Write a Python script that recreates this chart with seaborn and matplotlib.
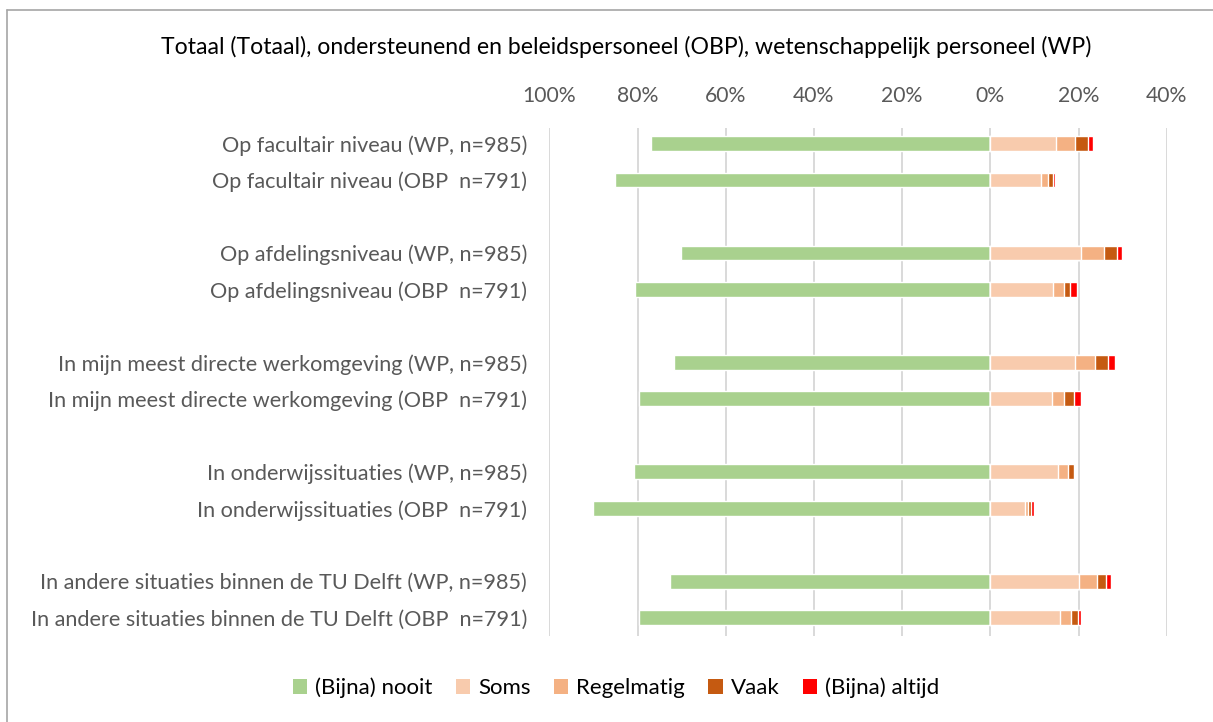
import matplotlib
matplotlib.use("Agg")
import matplotlib.pyplot as plt
import seaborn as sns
import pandas as pd
import numpy as np
from matplotlib.patches import Patch
from matplotlib.lines import Line2D

categories = [
    "Op facultair niveau (WP, n=985)",
    "Op facultair niveau (OBP  n=791)",
    "Op afdelingsniveau (WP, n=985)",
    "Op afdelingsniveau (OBP  n=791)",
    "In mijn meest directe werkomgeving (WP, n=985)",
    "In mijn meest directe werkomgeving (OBP  n=791)",
    "In onderwijssituaties (WP, n=985)",
    "In onderwijssituaties (OBP  n=791)",
    "In andere situaties binnen de TU Delft (WP, n=985)",
    "In andere situaties binnen de TU Delft (OBP  n=791)",
]
nooit      = [77.0, 85.1, 70.2, 80.5, 71.7, 79.7, 80.8, 90.2, 72.6, 79.7]
soms       = [15.0, 11.6, 20.6, 14.2, 19.1, 13.9, 15.4, 7.8, 20.0, 15.9]
regelmatig = [4.3, 1.5, 5.1, 2.4, 4.7, 2.7, 2.3, 0.7, 4.3, 2.5]
vaak       = [2.8, 1.1, 3.1, 1.5, 3.0, 2.4, 1.3, 0.8, 2.0, 1.5]
altijd     = [1.1, 0.5, 1.0, 1.5, 1.4, 1.6, 0.3, 0.7, 1.1, 0.7]

series_names = ["(Bijna) nooit", "Soms", "Regelmatig", "Vaak", "(Bijna) altijd"]
colors = ["#a9d18e", "#f8cbad", "#f4b183", "#c55a11", "#ff0000"]
xticks = [-100, -80, -60, -40, -20, 0, 20, 40]
xticklabels = ["100%", "80%", "60%", "40%", "20%", "0%", "20%", "40%"]
title = "Totaal (Totaal), ondersteunend en beleidspersoneel (OBP), wetenschappelijk personeel (WP)"

df = pd.DataFrame({"label": categories, "nooit": nooit, "soms": soms,
                   "regelmatig": regelmatig, "vaak": vaak, "altijd": altijd})
df["neg_nooit"] = -df["nooit"]
df["c1"] = df["soms"]
df["c2"] = df["c1"] + df["regelmatig"]
df["c3"] = df["c2"] + df["vaak"]
df["c4"] = df["c3"] + df["altijd"]

# order with spacer categories between pairs
order = []
for i in range(0, len(categories), 2):
    order += [categories[i], categories[i + 1]]
    if i + 2 < len(categories):
        order.append(" " * (i // 2 + 1))

sns.set_theme(style="white")
plt.rcParams["font.family"] = ["Lato", "DejaVu Sans"]

W, H = 1213, 722
fig = plt.figure(figsize=(W / 100, H / 100), dpi=100)
x0, x1 = 549.3, 1166.7
y0, y1 = 128, 636
ax = fig.add_axes([x0 / W, 1 - y1 / H, (x1 - x0) / W, (y1 - y0) / H])

for x in xticks:
    ax.axvline(x, color="#d9d9d9", lw=1.4, zorder=0)

layers = [("neg_nooit", colors[0]), ("c4", colors[4]), ("c3", colors[3]),
          ("c2", colors[2]), ("c1", colors[1])]
for col, c in layers:
    sns.barplot(data=df, x=col, y="label", order=order, color=c, width=0.4,
                orient="h", errorbar=None, ax=ax, saturation=1, zorder=2)

ax.set_xlim(-100, 40)
ax.set_ylim(13.5, -0.42)
ax.set_xlabel("")
ax.set_ylabel("")
ax.xaxis.tick_top()
ax.set_xticks(xticks)
ax.set_xticklabels(xticklabels, fontsize=15.2, color="#595959")
ax.tick_params(axis="x", length=0, pad=16)
ax.tick_params(axis="y", length=0, pad=16, labelsize=15.6, labelcolor="#595959")
for s in ax.spines.values():
    s.set_visible(False)

fig.text(626 / W, 1 - 47 / H, title, ha="center", va="center", fontsize=16.6, color="#000000")

handles = [Patch(facecolor=c, edgecolor="none") for c in colors]
fig.legend(handles, series_names, loc="center", bbox_to_anchor=(616 / W, 1 - 688 / H),
           ncol=5, frameon=False, fontsize=16, handlelength=0.65, handleheight=0.65,
           handletextpad=0.35, columnspacing=1.05, labelcolor="#000000")

# chart border (left and top)
fig.add_artist(Line2D([7 / W, 7 / W], [0, 1 - 10 / H], transform=fig.transFigure, color="#a6a6a6", lw=1.2))
fig.add_artist(Line2D([7 / W, 1], [1 - 10 / H, 1 - 10 / H], transform=fig.transFigure, color="#a6a6a6", lw=1.2))

fig.savefig("out.png", dpi=100)
